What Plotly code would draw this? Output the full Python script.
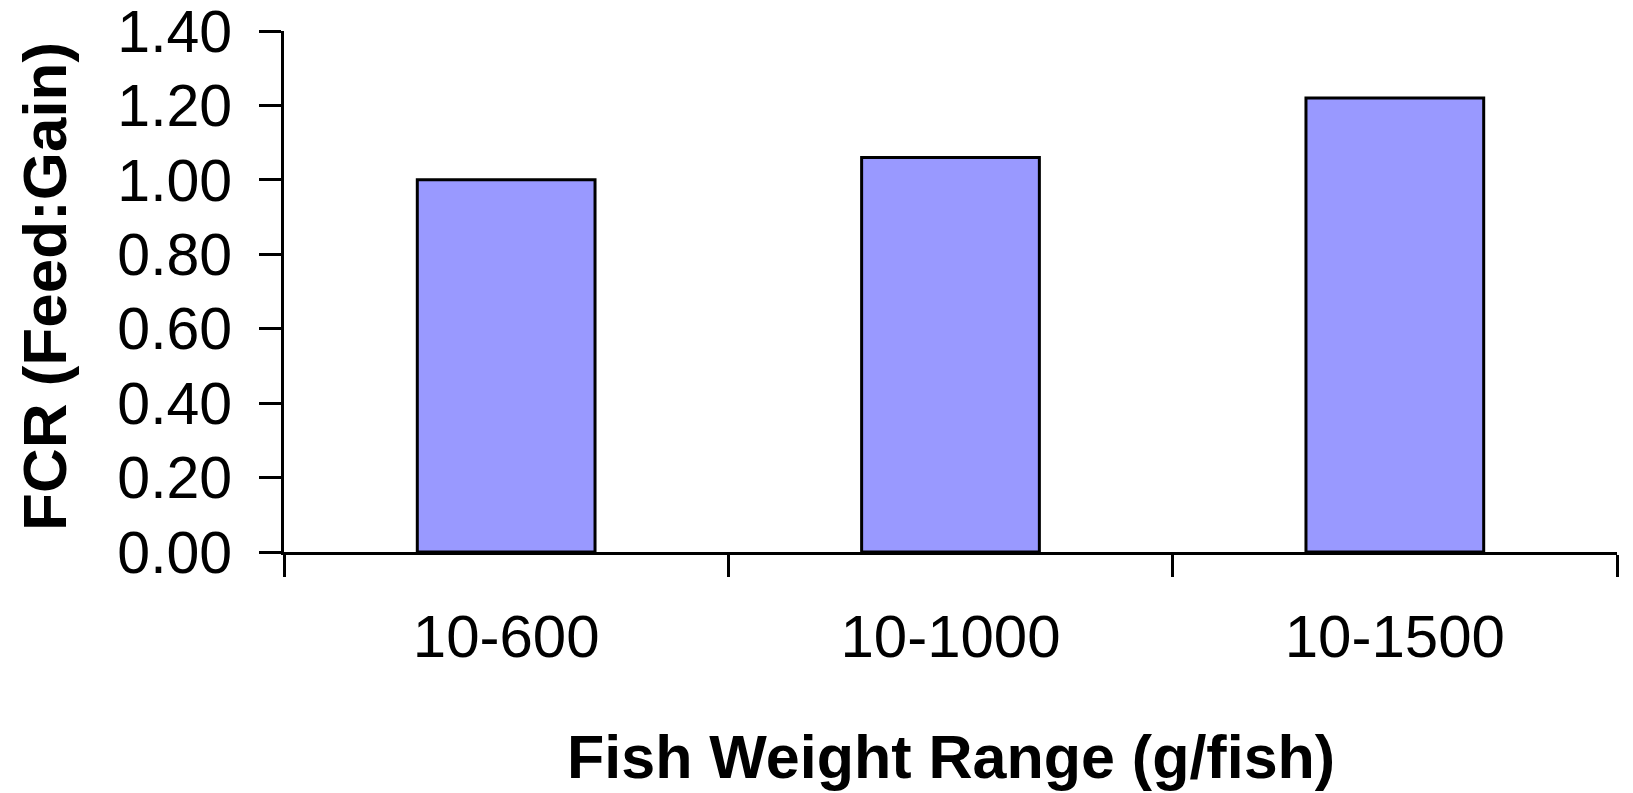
import plotly.graph_objects as go

# Feed conversion ratio by fish weight range
weight_ranges = ["10-600", "10-1000", "10-1500"]
fcr_values = [1.00, 1.06, 1.22]

y_ticks = [0.0, 0.2, 0.4, 0.6, 0.8, 1.0, 1.2, 1.4]

FONT = "Liberation Sans, Arial, sans-serif"

fig = go.Figure(
    go.Bar(
        x=weight_ranges,
        y=fcr_values,
        marker=dict(color="#9999FF", line=dict(color="black", width=3)),
        width=0.4,
    )
)

fig.update_layout(
    width=1633,
    height=793,
    margin=dict(l=284, r=16, t=31, b=241),
    paper_bgcolor="white",
    plot_bgcolor="white",
    showlegend=False,
    font=dict(family=FONT, color="black"),
    annotations=[
        dict(
            text="<b>Fish Weight Range (g/fish)</b>",
            xref="paper", yref="paper",
            x=0.5, y=-0.3935,
            xanchor="center", yanchor="middle",
            showarrow=False,
            font=dict(size=61, family=FONT, color="black"),
        ),
        dict(
            text="<b>FCR (Feed:Gain)</b>",
            xref="paper", yref="paper",
            x=-0.1793, y=0.5106,
            xanchor="center", yanchor="middle",
            textangle=-90,
            showarrow=False,
            font=dict(size=62, family=FONT, color="black"),
        ),
    ],
)

fig.update_xaxes(
    type="category",
    tickson="boundaries",
    ticks="outside",
    ticklen=22,
    tickwidth=3,
    tickcolor="black",
    showline=True,
    linecolor="black",
    linewidth=3,
    showgrid=False,
    zeroline=False,
    automargin=False,
    tickfont=dict(size=60, family=FONT, color="black"),
    ticklabelstandoff=30,
)

fig.update_yaxes(
    range=[0, 1.4],
    tickvals=y_ticks,
    tickformat=".2f",
    ticks="outside",
    ticklen=22,
    tickwidth=3,
    tickcolor="black",
    showline=True,
    linecolor="black",
    linewidth=3,
    showgrid=False,
    zeroline=False,
    automargin=False,
    tickfont=dict(size=59, family=FONT, color="black"),
    ticklabelstandoff=15,
    ticklabeloverflow="allow",
)

fig.write_html("out.html")
